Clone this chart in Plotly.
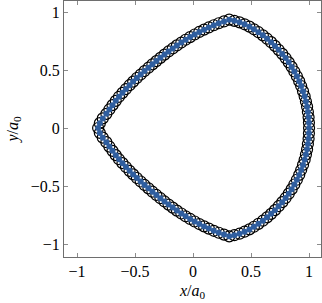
import plotly.graph_objects as go

# Outline points (x/a0, y/a0), counter-clockwise from (1, 0)
x_pts = [1.000, 0.999, 0.996, 0.990, 0.983, 0.973, 0.962, 0.948, 0.932, 0.915,
         0.895, 0.873, 0.850, 0.825, 0.798, 0.769, 0.738, 0.706, 0.673, 0.638,
         0.602, 0.564, 0.525, 0.486, 0.444, 0.401, 0.356, 0.312,
         0.267, 0.222, 0.179, 0.136, 0.095, 0.054, 0.014, -0.025, -0.064, -0.101,
         -0.139, -0.175, -0.211, -0.246, -0.281, -0.316, -0.350, -0.384, -0.418, -0.451,
         -0.484, -0.516, -0.547, -0.578, -0.608, -0.638, -0.666, -0.694, -0.721, -0.747,
         -0.778, -0.803, -0.818,
         -0.803, -0.778, -0.747, -0.721, -0.694, -0.666, -0.638, -0.608, -0.578, -0.547,
         -0.516, -0.484, -0.451, -0.418, -0.384, -0.350, -0.316, -0.281, -0.246, -0.211,
         -0.175, -0.139, -0.101, -0.064, -0.025, 0.014, 0.054, 0.095, 0.136, 0.179,
         0.222, 0.267, 0.312,
         0.356, 0.401, 0.444, 0.486, 0.525, 0.564, 0.602, 0.638, 0.673, 0.706,
         0.738, 0.769, 0.798, 0.825, 0.850, 0.873, 0.895, 0.915, 0.932, 0.948,
         0.962, 0.973, 0.983, 0.990, 0.996, 0.999]
y_pts = [0.000, 0.046, 0.092, 0.138, 0.184, 0.229, 0.274, 0.318, 0.362, 0.404,
         0.446, 0.487, 0.527, 0.566, 0.603, 0.639, 0.674, 0.708, 0.740, 0.770,
         0.799, 0.826, 0.851, 0.874, 0.894, 0.911, 0.924, 0.934,
         0.919, 0.903, 0.886, 0.867, 0.848, 0.828, 0.806, 0.784, 0.761, 0.737,
         0.712, 0.686, 0.660, 0.633, 0.605, 0.577, 0.549, 0.520, 0.491, 0.461,
         0.431, 0.400, 0.369, 0.336, 0.303, 0.269, 0.234, 0.197, 0.160, 0.122,
         0.083, 0.042, 0.000,
         -0.042, -0.083, -0.122, -0.160, -0.197, -0.234, -0.269, -0.303, -0.336, -0.369,
         -0.400, -0.431, -0.461, -0.491, -0.520, -0.549, -0.577, -0.605, -0.633, -0.660,
         -0.686, -0.712, -0.737, -0.761, -0.784, -0.806, -0.828, -0.848, -0.867, -0.886,
         -0.903, -0.919, -0.934,
         -0.924, -0.911, -0.894, -0.874, -0.851, -0.826, -0.799, -0.770, -0.740, -0.708,
         -0.674, -0.639, -0.603, -0.566, -0.527, -0.487, -0.446, -0.404, -0.362, -0.318,
         -0.274, -0.229, -0.184, -0.138, -0.092, -0.046]

tick_vals = [-1, -0.5, 0, 0.5, 1]
tick_text = ["\u22121", "\u22120.5", "0", "0.5", "1"]

FONT = "Times New Roman, Liberation Serif, DejaVu Serif, serif"

fig = go.Figure()
fig.add_trace(go.Scatter(
    x=x_pts, y=y_pts, mode="markers",
    marker=dict(symbol="circle-open", size=11, color="black", line=dict(width=1.2, color="black")),
    showlegend=False, hoverinfo="skip"))
fig.add_trace(go.Scatter(
    x=x_pts, y=y_pts, mode="markers",
    marker=dict(symbol="circle", size=6, color="#2f5e9f", line=dict(width=0)),
    showlegend=False, hoverinfo="skip"))

axis_common = dict(
    showgrid=False, zeroline=False, showline=True, linecolor="#6e6e6e", linewidth=1,
    mirror="ticks", ticks="inside", ticklen=4, tickwidth=1, tickcolor="#8c8c8c",
    tickvals=tick_vals, ticktext=tick_text,
    tickfont=dict(family=FONT, size=16, color="black"),
)

fig.update_layout(
    width=322, height=303,
    margin=dict(l=64, r=1, t=1, b=46),
    paper_bgcolor="white", plot_bgcolor="white",
    font=dict(family=FONT, size=16, color="black"),
    xaxis=dict(range=[-1.112, 1.103], **axis_common,
               title=dict(text="<i>x</i>/<i>a</i><sub>0</sub>", font=dict(family=FONT, size=16, color="black"), standoff=5)),
    yaxis=dict(range=[-1.112, 1.095], **axis_common,
               title=dict(text="<i>y</i>/<i>a</i><sub>0</sub>", font=dict(family=FONT, size=16, color="black"), standoff=8)),
)

fig.write_html("out.html")
